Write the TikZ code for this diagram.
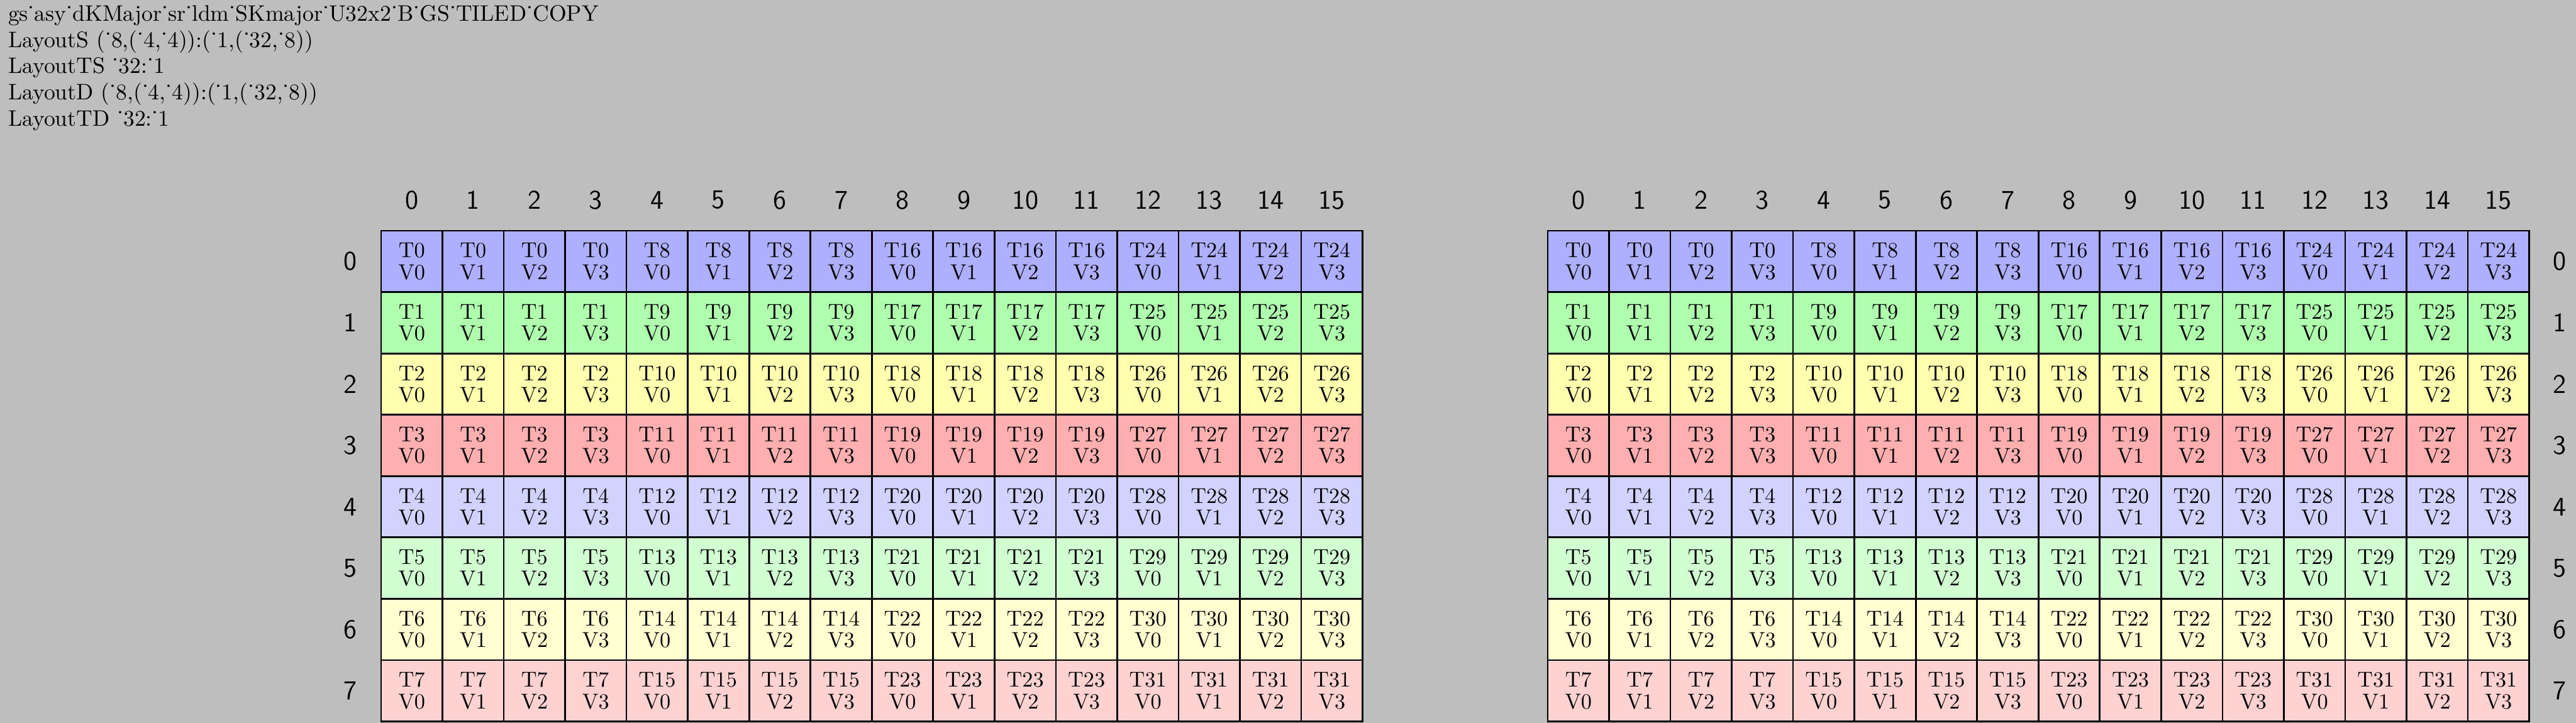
\documentclass[tikz,border=0pt]{standalone}
\definecolor{bgc}{RGB}{190,190,190}
\definecolor{c0}{RGB}{175,175,255}
\definecolor{c1}{RGB}{175,255,175}
\definecolor{c2}{RGB}{255,255,175}
\definecolor{c3}{RGB}{255,175,175}
\definecolor{c4}{RGB}{210,210,255}
\definecolor{c5}{RGB}{210,255,210}
\definecolor{c6}{RGB}{255,255,210}
\definecolor{c7}{RGB}{255,210,210}
\newcommand\dotu{\char"02D9\relax}
\begin{document}
\begin{tikzpicture}[x=1cm,y=-1cm,
  cell/.style={draw=black,thick,minimum size=1cm,inner sep=0pt,align=center,font=\fontsize{10}{10}\selectfont},
  lab/.style={font=\sffamily\fontsize{12.5}{15}\selectfont,inner sep=0pt},
  hdrtext/.style={anchor=base west,inner sep=0pt,font=\fontsize{10.4}{12}\selectfont}]
\fill[bgc] (0,0) rectangle (41.992,11.788);
\useasboundingbox (0,0) rectangle (41.992,11.788);
\node[hdrtext] (hdr1) at (0.127,0.347) {gs\dotu asy\dotu dKMajor\dotu sr\dotu ldm\dotu SKmajor\dotu U32x2\dotu B\dotu GS\dotu TILED\dotu COPY};
\node[hdrtext] (hdr2) at (0.127,0.773) {LayoutS (\dotu 8,(\dotu 4,\dotu 4)):(\dotu 1,(\dotu 32,\dotu 8))};
\node[hdrtext] (hdr3) at (0.127,1.199) {LayoutTS \dotu 32:\dotu 1};
\node[hdrtext] (hdr4) at (0.127,1.625) {LayoutD (\dotu 8,(\dotu 4,\dotu 4)):(\dotu 1,(\dotu 32,\dotu 8))};
\node[hdrtext] (hdr5) at (0.127,2.051) {LayoutTD \dotu 32:\dotu 1};
\foreach \g/\gx in {s/6.212, d/25.229} {
  \foreach \r in {0,...,7} {
    \foreach \c in {0,...,15} {
      \pgfmathtruncatemacro\t{\r+8*int(\c/4)}
      \pgfmathtruncatemacro\v{mod(\c,4)}
      \node[cell, fill=c\r] (\g-\r-\c) at (\gx+\c+0.5, 3.763+\r+0.5) {T\t\\V\v};
    }
  }
  \foreach \c in {0,...,15} {
    \node[lab] (\g col\c) at (\gx+\c+0.5, 3.263) {\c};
  }
}
\foreach \r in {0,...,7} {
  \node[lab] (srow\r) at (5.712, 4.263+\r) {\r};
  \node[lab] (drow\r) at (41.729, 4.263+\r) {\r};
}
\end{tikzpicture}
\end{document}
